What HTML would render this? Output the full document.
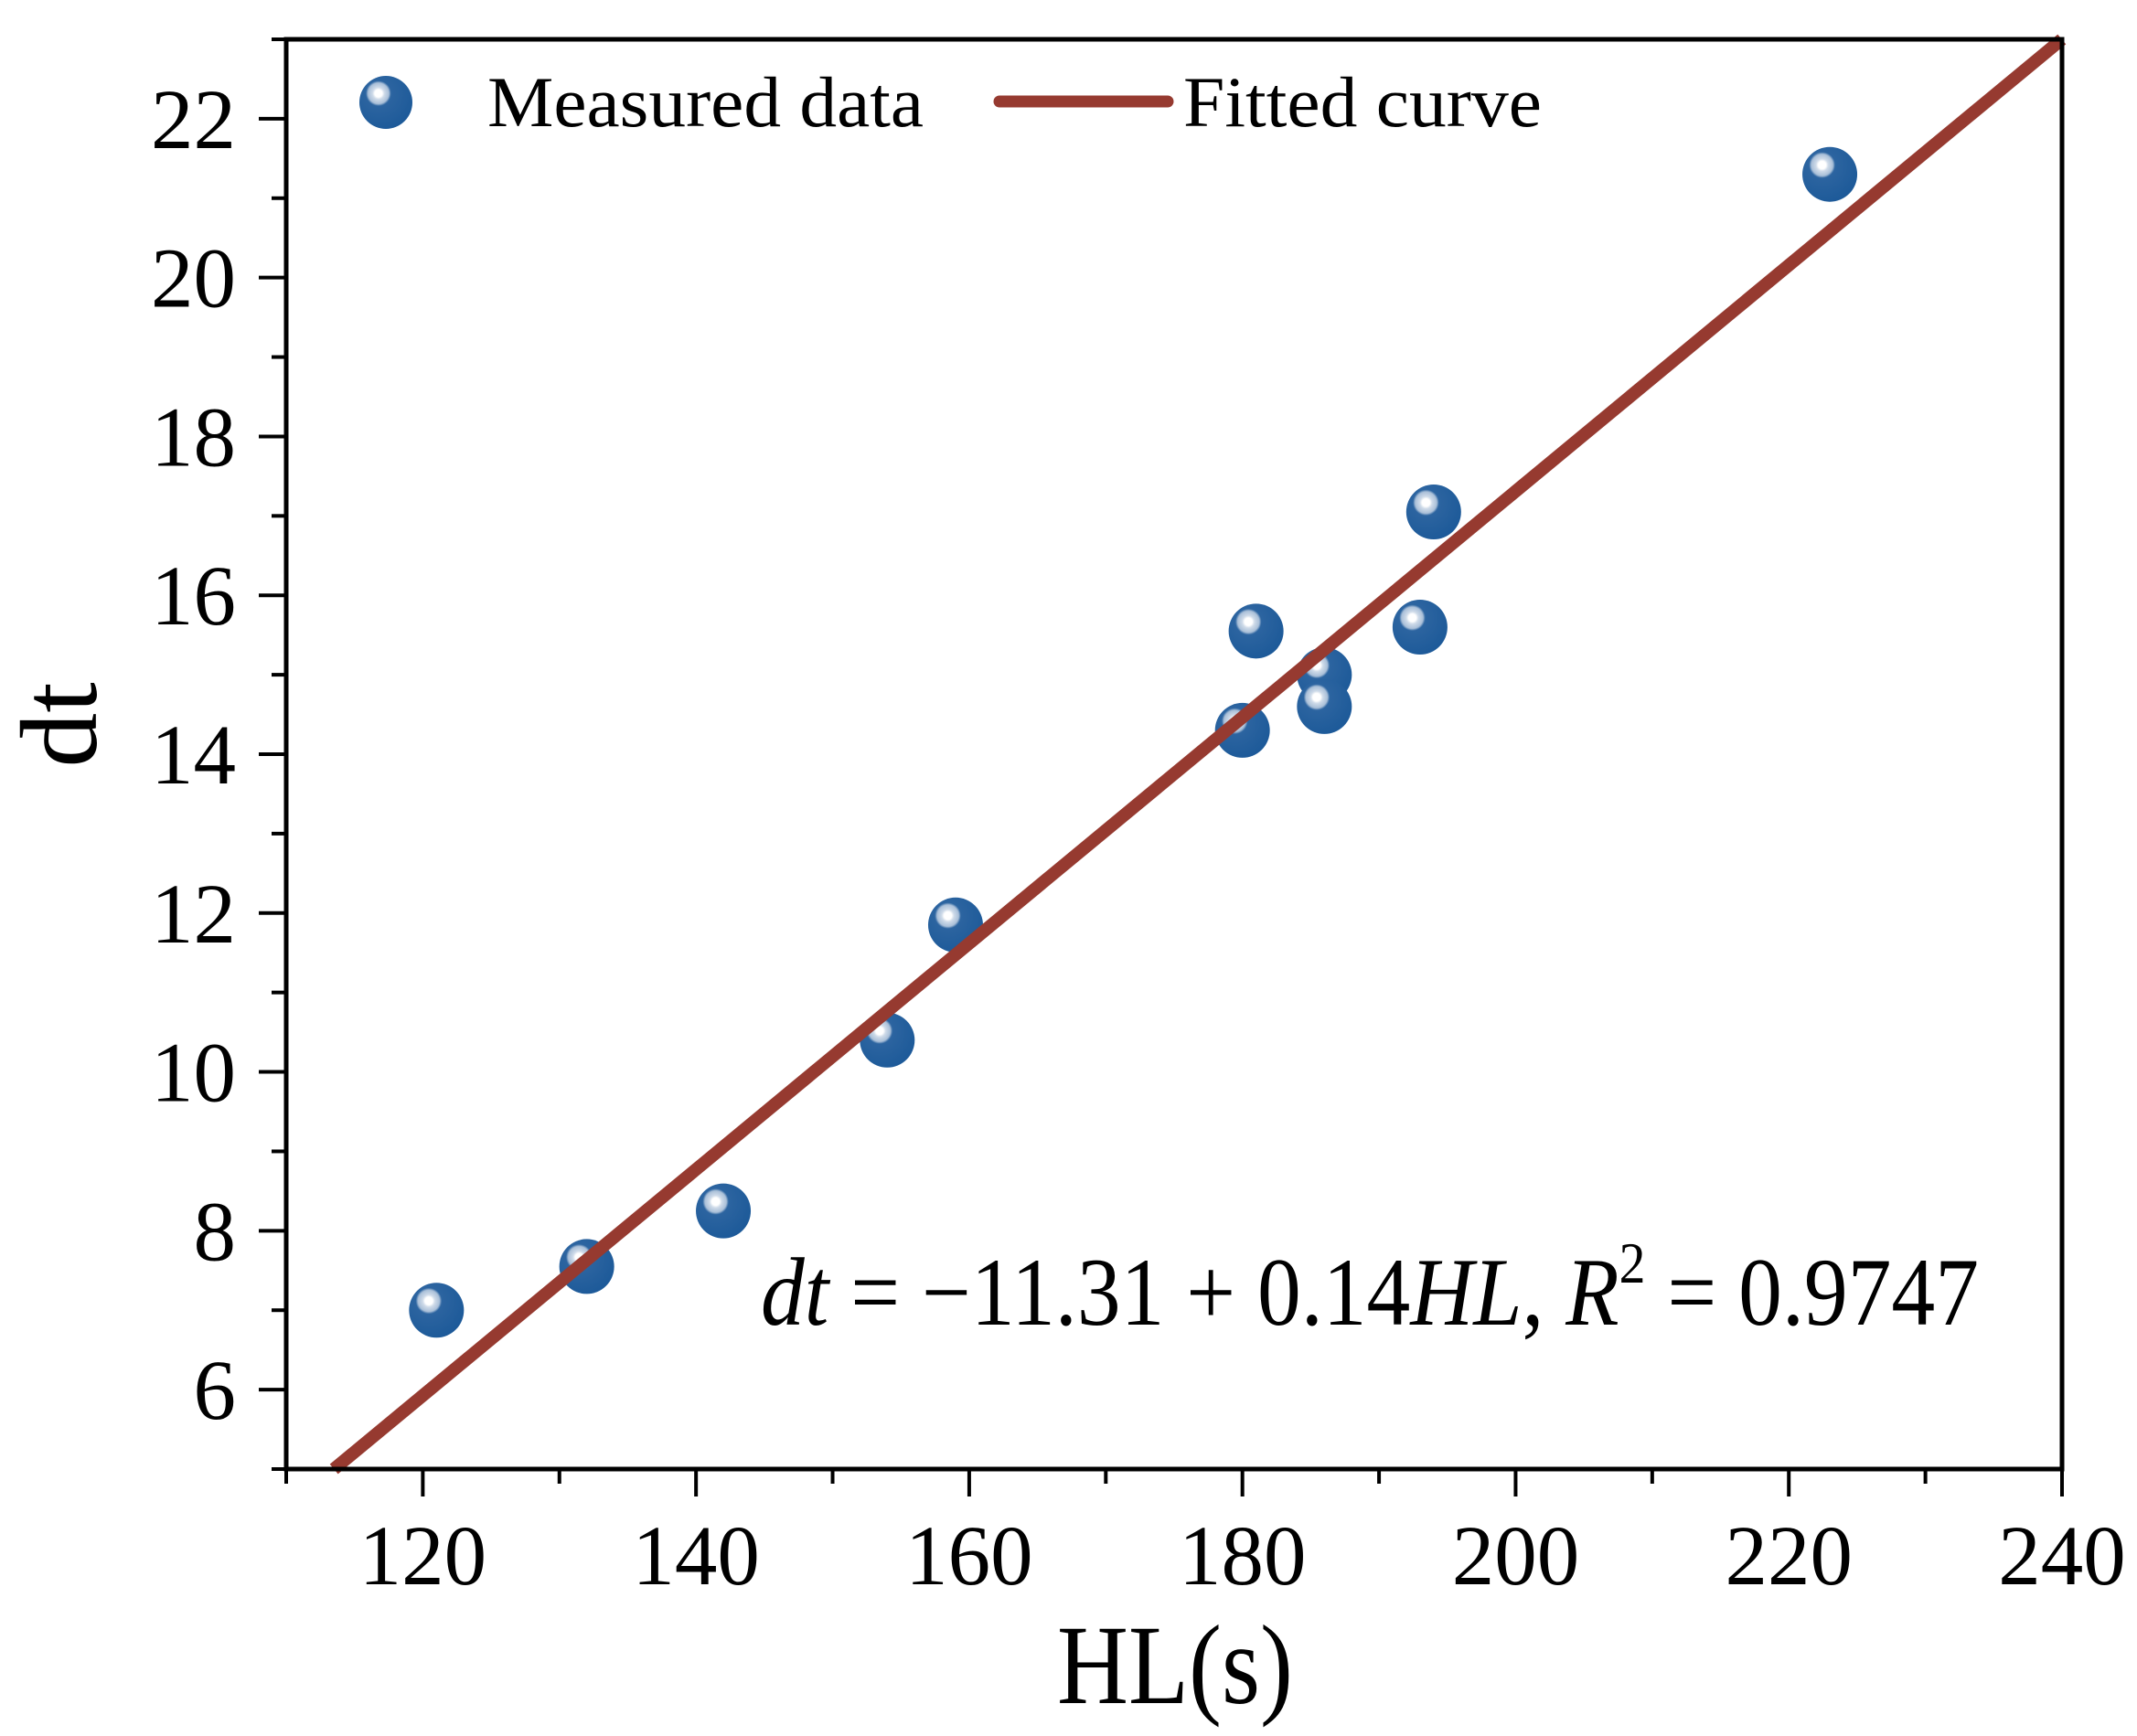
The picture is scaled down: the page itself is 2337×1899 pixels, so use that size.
<!DOCTYPE html>
<html><head><meta charset="utf-8"><style>
html,body{margin:0;padding:0;background:#fff;}
svg{display:block;}
text{font-family:"Liberation Serif",serif;fill:#000;}
</style></head><body>
<svg id="chart" width="2337" height="1899" viewBox="0 0 2337 1899" xmlns="http://www.w3.org/2000/svg">
<defs>
<radialGradient id="ball" cx="0.36" cy="0.33" r="0.7">
<stop offset="0" stop-color="#ffffff"/>
<stop offset="0.1" stop-color="#ffffff"/>
<stop offset="0.16" stop-color="#cfdbe9"/>
<stop offset="0.28" stop-color="#a9bfd8"/>
<stop offset="0.34" stop-color="#2c64a0"/>
<stop offset="1" stop-color="#1d5a99"/>
</radialGradient>
</defs>
<g id="marks"></g>
<g id="axes"></g>
<text x="1285" y="1863" font-size="124" text-anchor="middle" textLength="258" lengthAdjust="spacingAndGlyphs">HL(s)</text>
<text x="0" y="0" font-size="120" text-anchor="middle" transform="translate(105,793) rotate(-90)">dt</text>
<g>
<circle cx="422" cy="112" r="29" fill="url(#ball)"/>
<text x="533" y="138" font-size="78" textLength="477" lengthAdjust="spacingAndGlyphs">Measured data</text>
<line x1="1093" y1="111" x2="1277" y2="111" stroke="#963a30" stroke-width="13" stroke-linecap="round"/>
<text x="1294" y="138" font-size="78" textLength="392" lengthAdjust="spacingAndGlyphs">Fitted curve</text>
</g>
<text x="832" y="1449" font-size="106" textLength="1332" lengthAdjust="spacingAndGlyphs"><tspan font-style="italic">dt</tspan> = −11.31 + 0.14<tspan font-style="italic">HL</tspan>, <tspan font-style="italic">R</tspan><tspan font-size="64" dy="-46">2</tspan><tspan dy="46"> = 0.9747</tspan></text>
</svg>
<script>
const hlValues = [121, 132, 142, 154, 159, 180, 181, 186, 186, 193, 194, 223];
const dtValues = [7.0, 7.55, 8.25, 10.4, 11.85, 14.3, 15.55, 15.0, 14.6, 15.6, 17.05, 21.3];
const fitIntercept = -11.15;
const fitSlope = 0.1423;
const xTickLabels = [120, 140, 160, 180, 200, 220, 240];
const yTickLabels = [6, 8, 10, 12, 14, 16, 18, 20, 22];
const xDomain = [110, 240];
const yDomain = [5, 23];

const L = 313, R = 2255, T = 43, B = 1607;
const NS = 'http://www.w3.org/2000/svg';
function sx(v){ return L + (v - xDomain[0]) / (xDomain[1] - xDomain[0]) * (R - L); }
function sy(v){ return B - (v - yDomain[0]) / (yDomain[1] - yDomain[0]) * (B - T); }
function mk(tag, attrs, parent){ const e = document.createElementNS(NS, tag); for (const k in attrs) e.setAttribute(k, attrs[k]); parent.appendChild(e); return e; }

const marks = document.getElementById('marks');
hlValues.forEach((h, i) => {
  const c = mk('circle', {cx: sx(h), cy: sy(dtValues[i]), r: 30, fill: 'url(#ball)'}, marks);
  
  
});
let x0 = (yDomain[0] - fitIntercept) / fitSlope; if (x0 < xDomain[0]) x0 = xDomain[0];
let x1 = (yDomain[1] - fitIntercept) / fitSlope; if (x1 > xDomain[1]) x1 = xDomain[1];
const fl = mk('line', {x1: sx(x0), y1: sy(fitIntercept + fitSlope * x0), x2: sx(x1), y2: sy(fitIntercept + fitSlope * x1), stroke: '#963a30', 'stroke-width': 14}, marks);



const axes = document.getElementById('axes');
const frame = mk('rect', {x: L, y: T, width: R - L, height: B - T, fill: 'none', stroke: '#000', 'stroke-width': 5}, axes);


for (let v = xDomain[0]; v <= xDomain[1]; v += 10) {
  const major = (v % 20 === 0);
  const t = mk('line', {x1: sx(v), y1: B, x2: sx(v), y2: B + (major ? 30 : 16), stroke: '#000', 'stroke-width': 4}, axes);
  
  
}
for (let v = yDomain[0]; v <= yDomain[1]; v += 1) {
  const major = (v % 2 === 0);
  const t = mk('line', {x1: L - (major ? 30 : 16), y1: sy(v), x2: L, y2: sy(v), stroke: '#000', 'stroke-width': 4}, axes);
  
  
}
xTickLabels.forEach(v => {
  const t = mk('text', {x: sx(v), y: 1733, 'font-size': 93, 'text-anchor': 'middle'}, axes);
  t.textContent = v;
  
  
});
yTickLabels.forEach(v => {
  const t = mk('text', {x: 258, y: sy(v) + 32, 'font-size': 93, 'text-anchor': 'end'}, axes);
  t.textContent = v;
  
  
});
</script>
</body></html>
